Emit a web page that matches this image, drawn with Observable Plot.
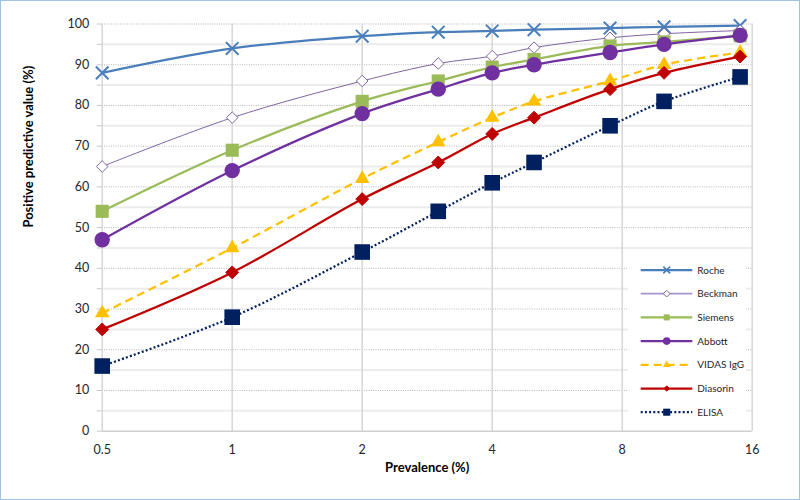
<!DOCTYPE html>
<html><head><meta charset="utf-8">
<script src="https://cdn.jsdelivr.net/npm/d3@7"></script>
<script src="https://cdn.jsdelivr.net/npm/@observablehq/plot@0.6"></script>
<style>
body{margin:0;background:#fff;}
#wrap{position:relative;width:800px;height:500px;overflow:hidden;font-family:Lato,"Open Sans",sans-serif;}
#border{position:absolute;left:0;top:0;width:800px;height:500px;box-sizing:border-box;border:1px solid #9dc3e6;pointer-events:none;}
#legend{position:absolute;left:628px;top:250px;}
</style></head><body>
<div id="wrap"><div id="chart"></div><svg id="legend" width="118" height="176"></svg><div id="border"></div></div>
<script>
// ---- data ----
const prevalence = [0.5, 1, 2, 3, 4, 5, 7.5, 10, 15];
const roche    = [88, 94, 97, 98, 98.3, 98.6, 99, 99.3, 99.6];
const beckman  = [65, 77, 86, 90.3, 92.1, 94.2, 96.6, 97.6, 98.4];
const siemens  = [54, 69, 81, 86, 89.4, 91.3, 94.6, 95.6, 97.1];
const abbott   = [47, 64, 78, 84, 88, 90, 93, 95, 97.2];
const vidas    = [29, 45, 62, 71, 77, 81, 86, 90, 93];
const diasorin = [25, 39, 57, 66, 73, 77, 84, 88, 92];
const elisa    = [16, 28, 44, 54, 61, 66, 75, 81, 87];
const seriesNames = ["Roche", "Beckman", "Siemens", "Abbott", "VIDAS IgG", "Diasorin", "ELISA"];
const seriesValues = [roche, beckman, siemens, abbott, vidas, diasorin, elisa];
const xTicks = [0.5, 1, 2, 4, 8, 16];
const yMajor = d3.range(10, 101, 10);
const yMinor = d3.range(5, 100, 10);
const yTicks = d3.range(0, 101, 5);
const xTitle = "Prevalence (%)";
const yTitle = "Positive predictive value (%)";

// ---- styles ----
const styles = {
  "Roche":     {color:"#4a7ebb", width:2.25, dash:null,  symbol:"times",    r:5.8, fill:"none",    sw:2,   lr:3.2},
  "Beckman":   {color:"#8064a2", width:1,    dash:null,  symbol:"diamond2", r:5.2, fill:"white",   sw:1,   lr:3},
  "Siemens":   {color:"#9bbb59", width:2.25, dash:null,  symbol:"square",   r:7.4, fill:"#9bbb59", sw:0,   lr:3.4},
  "Abbott":    {color:"#7030a0", width:2.25, dash:null,  symbol:"circle",   r:7.7, fill:"#7030a0", sw:0,   lr:3.8},
  "VIDAS IgG": {color:"#ffc000", width:2.25, dash:"8,5", symbol:"triangle", r:5.4, fill:"#ffc000", sw:0,   lr:2.8},
  "Diasorin":  {color:"#c00000", width:2.25, dash:null,  symbol:"diamond2", r:5.8, fill:"#c00000", sw:1,   lr:2.4},
  "ELISA":     {color:"#002060", width:2.25, dash:"2,2.2", symbol:"square", r:8.8, fill:"#002060", sw:0,   lr:4}
};

const rows = [];
seriesNames.forEach((name, i) => prevalence.forEach((p, j) => rows.push({series:name, x:p, y:seriesValues[i][j]})));

const marks = [
  Plot.ruleY(yMinor, {stroke:"#ececec", strokeWidth:2}),
  Plot.ruleY(yMajor, {stroke:"#b8b8b8", strokeWidth:1, strokeDasharray:"1,1.3"}),
  Plot.ruleX(xTicks, {stroke:"#d6d6d6", strokeWidth:1.5}),
  Plot.ruleY([0], {stroke:"#cfcfcf", strokeWidth:1.5}),
  Plot.axisY({ticks:yTicks, tickSize:5, tickPadding:8, tickFormat:d => d % 10 === 0 ? d : "", stroke:"#c8c8c8", label:null, fontSize:12.5, fill:"#262626"}),
  Plot.axisX({ticks:xTicks, tickSize:0, tickPadding:14, tickFormat:d => String(d), label:null, fontSize:12.5, fill:"#262626"}),
  Plot.text([yTitle], {frameAnchor:"left", rotate:-90, dx:-73, fontWeight:"bold", fontSize:13, fill:"#000"}),
  Plot.text([xTitle], {frameAnchor:"bottom", dy:41, fontWeight:"bold", fontSize:13, fill:"#000"})
];
seriesNames.forEach(name => {
  const s = styles[name];
  const data = rows.filter(d => d.series === name);
  marks.push(Plot.line(data, {x:"x", y:"y", stroke:s.color, strokeWidth:s.width, strokeDasharray:s.dash, curve:"catmull-rom", strokeLinecap:"butt"}));
  marks.push(Plot.dot(data, {x:"x", y:"y", symbol:s.symbol, r:s.r, fill:s.fill, stroke:s.sw ? s.color : "none", strokeWidth:s.sw}));
});

const chart = Plot.plot({
  width:800, height:500,
  marginLeft:101.7, marginRight:48.3, marginTop:23.5, marginBottom:69.3,
  style:{fontFamily:"Lato, 'Open Sans', sans-serif", background:"white"},
  x:{type:"log", base:2, domain:[0.5, 16]},
  y:{domain:[0, 100]},
  marks
});
document.getElementById("chart").appendChild(chart);

// ---- legend ----
const lg = d3.select("#legend");
lg.append("rect").attr("width",118).attr("height",176).attr("fill","white");
const symMap = {times:d3.symbolTimes, diamond2:d3.symbolDiamond2, square:d3.symbolSquare, circle:d3.symbolCircle, triangle:d3.symbolTriangle};
seriesNames.forEach((name, i) => {
  const s = styles[name];
  const y = 20 + i * 23.7;
  const g = lg.append("g").attr("transform", `translate(0,${y})`);
  g.append("line").attr("x1",12.7).attr("x2",64.3).attr("stroke", name === "Beckman" ? "#a793c9" : s.color)
    .attr("stroke-width", name === "Beckman" ? 1.8 : s.width).attr("stroke-dasharray", s.dash);
  g.append("path").attr("transform","translate(38.7,0)")
    .attr("d", d3.symbol(symMap[s.symbol], Math.PI * s.lr * s.lr)())
    .attr("fill", s.fill).attr("stroke", s.sw ? s.color : "none").attr("stroke-width", s.sw ? Math.min(s.sw,1.6) : 0);
  g.append("text").attr("x",69.3).attr("dy","0.35em").attr("font-size",10).attr("fill","#262626").text(name);
});
</script>
</body></html>
